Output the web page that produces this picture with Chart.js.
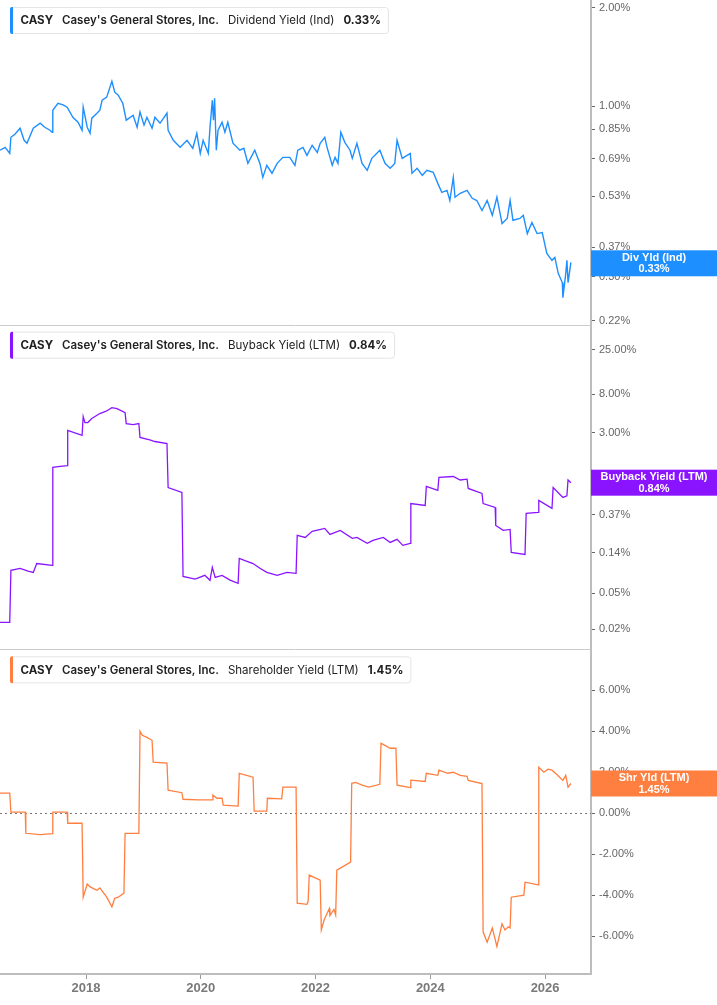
<!DOCTYPE html>
<html>
<head>
<meta charset="utf-8">
<script src="https://cdn.jsdelivr.net/npm/chart.js@4.4.1/dist/chart.umd.min.js"></script>
<style>
  html, body { margin: 0; padding: 0; background: #fff; }
</style>
</head>
<body>
<canvas id="yieldChart" width="717" height="1005"></canvas>
<script>
// Dividend yield (Ind), %
const divYears = [2016.50, 2016.59, 2016.67, 2016.69, 2016.76, 2016.85, 2016.92, 2016.97, 2017.08, 2017.20, 2017.28, 2017.37, 2017.41, 2017.42, 2017.51, 2017.60, 2017.67, 2017.77, 2017.86, 2017.93, 2017.95, 2018.02, 2018.07, 2018.10, 2018.19, 2018.24, 2018.28, 2018.36, 2018.45, 2018.50, 2018.56, 2018.64, 2018.70, 2018.82, 2018.89, 2018.94, 2019.01, 2019.06, 2019.15, 2019.20, 2019.29, 2019.41, 2019.43, 2019.52, 2019.64, 2019.76, 2019.86, 2019.93, 2019.99, 2020.04, 2020.13, 2020.16, 2020.20, 2020.22, 2020.24, 2020.27, 2020.30, 2020.37, 2020.42, 2020.47, 2020.56, 2020.68, 2020.75, 2020.82, 2020.94, 2021.03, 2021.08, 2021.15, 2021.24, 2021.33, 2021.43, 2021.55, 2021.64, 2021.69, 2021.78, 2021.85, 2021.94, 2022.03, 2022.08, 2022.16, 2022.20, 2022.29, 2022.34, 2022.39, 2022.44, 2022.51, 2022.60, 2022.64, 2022.72, 2022.81, 2022.90, 2022.98, 2023.12, 2023.21, 2023.30, 2023.38, 2023.42, 2023.51, 2023.65, 2023.68, 2023.77, 2023.86, 2023.94, 2024.05, 2024.13, 2024.20, 2024.29, 2024.34, 2024.40, 2024.43, 2024.52, 2024.64, 2024.73, 2024.81, 2024.90, 2024.99, 2025.08, 2025.16, 2025.25, 2025.34, 2025.39, 2025.44, 2025.56, 2025.62, 2025.69, 2025.77, 2025.86, 2025.95, 2026.03, 2026.12, 2026.17, 2026.23, 2026.30, 2026.31, 2026.36, 2026.38, 2026.40, 2026.45];
const divYield = [0.733, 0.748, 0.717, 0.803, 0.820, 0.856, 0.786, 0.770, 0.856, 0.887, 0.862, 0.844, 0.832, 0.972, 1.021, 1.010, 0.993, 0.925, 0.893, 0.844, 0.993, 0.862, 0.826, 0.919, 0.952, 0.972, 1.043, 1.066, 1.193, 1.104, 1.081, 1.021, 0.906, 0.938, 0.862, 0.960, 0.875, 0.925, 0.856, 0.925, 0.887, 0.952, 0.844, 0.786, 0.748, 0.786, 0.743, 0.826, 0.717, 0.786, 0.717, 0.862, 1.043, 0.906, 1.058, 0.733, 0.844, 0.893, 0.832, 0.893, 0.770, 0.733, 0.743, 0.668, 0.733, 0.668, 0.605, 0.659, 0.623, 0.668, 0.697, 0.697, 0.659, 0.733, 0.748, 0.707, 0.759, 0.722, 0.770, 0.803, 0.748, 0.659, 0.697, 0.668, 0.832, 0.775, 0.733, 0.692, 0.770, 0.668, 0.636, 0.692, 0.733, 0.668, 0.645, 0.668, 0.786, 0.692, 0.717, 0.623, 0.645, 0.614, 0.636, 0.627, 0.580, 0.544, 0.552, 0.514, 0.605, 0.526, 0.541, 0.552, 0.522, 0.514, 0.479, 0.514, 0.463, 0.526, 0.437, 0.453, 0.514, 0.447, 0.453, 0.463, 0.407, 0.440, 0.407, 0.410, 0.354, 0.337, 0.344, 0.307, 0.288, 0.259, 0.307, 0.337, 0.288, 0.332];

// Buyback yield (LTM), %
const buyYears = [2016.50, 2016.67, 2016.69, 2016.85, 2016.99, 2017.08, 2017.14, 2017.41, 2017.42, 2017.55, 2017.67, 2017.68, 2017.93, 2017.95, 2017.98, 2018.03, 2018.10, 2018.24, 2018.35, 2018.45, 2018.54, 2018.68, 2018.70, 2018.82, 2018.92, 2018.94, 2019.11, 2019.20, 2019.41, 2019.43, 2019.67, 2019.69, 2019.90, 2020.07, 2020.16, 2020.20, 2020.25, 2020.37, 2020.51, 2020.65, 2020.67, 2020.77, 2020.91, 2021.03, 2021.15, 2021.33, 2021.50, 2021.66, 2021.68, 2021.82, 2021.94, 2022.16, 2022.25, 2022.43, 2022.64, 2022.72, 2022.90, 2023.00, 2023.18, 2023.30, 2023.42, 2023.52, 2023.65, 2023.66, 2023.91, 2023.93, 2024.13, 2024.15, 2024.40, 2024.52, 2024.64, 2024.66, 2024.90, 2024.92, 2025.13, 2025.14, 2025.27, 2025.39, 2025.41, 2025.65, 2025.67, 2025.88, 2025.89, 2026.12, 2026.14, 2026.31, 2026.38, 2026.40, 2026.45];
const buyYield = [0.0239, 0.0239, 0.0898, 0.0945, 0.088, 0.0853, 0.107, 0.102, 1.24, 1.27, 1.30, 3.18, 2.80, 4.54, 3.89, 3.89, 4.31, 4.90, 5.20, 5.70, 5.56, 5.02, 3.79, 3.70, 3.79, 2.66, 2.50, 2.40, 2.28, 0.743, 0.655, 0.0771, 0.072, 0.0791, 0.0697, 0.097, 0.075, 0.0791, 0.070, 0.0645, 0.122, 0.115, 0.107, 0.095, 0.0853, 0.0791, 0.0853, 0.0832, 0.219, 0.208, 0.243, 0.262, 0.225, 0.249, 0.203, 0.208, 0.179, 0.193, 0.208, 0.183, 0.198, 0.170, 0.179, 0.494, 0.470, 0.764, 0.689, 0.960, 0.984, 0.900, 0.920, 0.725, 0.638, 0.494, 0.447, 0.282, 0.249, 0.255, 0.142, 0.135, 0.384, 0.394, 0.535, 0.436, 0.743, 0.577, 0.600, 0.900, 0.840];

// Shareholder yield (LTM), %
const shrYears = [2016.50, 2016.67, 2016.69, 2016.94, 2016.95, 2017.20, 2017.41, 2017.42, 2017.67, 2017.68, 2017.93, 2017.95, 2018.02, 2018.07, 2018.19, 2018.24, 2018.36, 2018.45, 2018.50, 2018.56, 2018.66, 2018.68, 2018.92, 2018.94, 2018.98, 2019.06, 2019.15, 2019.17, 2019.41, 2019.43, 2019.67, 2019.69, 2019.95, 2020.20, 2020.21, 2020.28, 2020.37, 2020.39, 2020.65, 2020.67, 2020.91, 2020.93, 2021.15, 2021.16, 2021.41, 2021.43, 2021.66, 2021.68, 2021.85, 2021.87, 2021.89, 2022.08, 2022.10, 2022.15, 2022.24, 2022.25, 2022.32, 2022.35, 2022.37, 2022.61, 2022.63, 2022.70, 2022.81, 2022.93, 2023.12, 2023.14, 2023.17, 2023.30, 2023.40, 2023.42, 2023.65, 2023.66, 2023.91, 2023.93, 2024.13, 2024.15, 2024.30, 2024.40, 2024.52, 2024.64, 2024.66, 2024.90, 2024.92, 2024.99, 2025.08, 2025.16, 2025.25, 2025.30, 2025.36, 2025.39, 2025.41, 2025.63, 2025.65, 2025.88, 2025.89, 2025.98, 2026.05, 2026.12, 2026.20, 2026.31, 2026.36, 2026.40, 2026.45];
const shrYield = [0.98, 0.98, 0.05, 0.05, -0.98, -1.05, -1.00, 0.05, 0.05, -0.49, -0.49, -4.10, -3.46, -3.60, -3.76, -3.65, -4.10, -4.57, -4.15, -4.10, -3.90, -0.98, -0.98, 4.00, 3.80, 3.70, 3.56, 2.49, 2.45, 1.12, 1.00, 0.68, 0.65, 0.65, 0.88, 0.73, 0.73, 0.39, 0.35, 1.95, 1.76, 0.10, 0.10, 0.73, 0.70, 1.27, 1.27, -4.39, -4.45, -4.30, -3.02, -3.27, -5.70, -5.20, -4.65, -5.00, -4.70, -4.97, -2.78, -2.39, 1.46, 1.50, 1.37, 1.27, 1.41, 3.41, 3.37, 3.17, 3.17, 1.37, 1.25, 1.61, 1.55, 1.95, 1.85, 2.10, 1.95, 2.00, 1.85, 1.80, 1.60, 1.45, -5.80, -6.30, -5.60, -6.50, -5.40, -5.70, -5.55, -5.60, -4.10, -4.00, -3.37, -3.50, 2.24, 2.00, 2.15, 2.10, 1.90, 1.60, 1.85, 1.27, 1.45];

const divTicks = [2.00, 1.00, 0.85, 0.69, 0.53, 0.37, 0.30, 0.22];
const buyTicks = [25, 8, 3, 1, 0.37, 0.14, 0.05, 0.02];
const shrTicks = [6, 4, 2, 0, -2, -4, -6];
const yearTicks = [2018, 2020, 2022, 2024, 2026];

const ticker = 'CASY';
const company = "Casey's General Stores, Inc.";
const metricNames = ['Dividend Yield (Ind)', 'Buyback Yield (LTM)', 'Shareholder Yield (LTM)'];
const badgeNames = ['Div Yld (Ind)', 'Buyback Yield (LTM)', 'Shr Yld (LTM)'];
const lastValues = [0.33, 0.84, 1.45];
const colors = ['#1e8fff', '#8a14ff', '#ff7f40'];

const pairs = (xs, ys) => xs.map((x, i) => ({ x: x, y: ys[i] }));
const pct = v => Number(v).toFixed(2) + '%';

function yAxis(extra, tickList) {
  return Object.assign({
    position: 'right',
    stack: 'yields',
    stackWeight: 1,
    border: { color: '#bdbdbd', width: 2 },
    grid: { drawOnChartArea: false, drawTicks: true, tickLength: 4, tickColor: '#666' },
    ticks: {
      autoSkip: false,
      padding: 4,
      color: '#666',
      font: { family: 'Liberation Sans, Arial, sans-serif', size: 11 },
      callback: v => pct(v)
    },
    afterBuildTicks: s => { s.ticks = tickList.map(v => ({ value: v })); },
    afterFit: s => { s.width = 126; s.paddingTop = 0; s.paddingBottom = 0; }
  }, extra);
}

const headerFont = (weight) => weight + ' 11.5px Inter, sans-serif';

const panelPlugin = {
  id: 'panels',
  beforeDatasetsDraw(chart) {
    const ctx = chart.ctx;
    const area = chart.chartArea;
    const y3 = chart.scales.y3;
    ctx.save();
    // zero line on the shareholder panel
    ctx.strokeStyle = '#777';
    ctx.lineWidth = 1;
    ctx.setLineDash([2, 3]);
    const zy = Math.round(y3.getPixelForValue(0)) + 0.5;
    ctx.beginPath();
    ctx.moveTo(area.left, zy);
    ctx.lineTo(area.right, zy);
    ctx.stroke();
    ctx.setLineDash([]);
    // panel separators
    ctx.strokeStyle = '#cccccc';
    ['y1', 'y2'].forEach(id => {
      const b = Math.round(chart.scales[id].bottom) + 0.5;
      ctx.beginPath();
      ctx.moveTo(area.left, b);
      ctx.lineTo(area.right, b);
      ctx.stroke();
    });
    ctx.restore();
  },
  afterDraw(chart) {
    const ctx = chart.ctx;
    const area = chart.chartArea;
    ['y1', 'y2', 'y3'].forEach((id, i) => {
      const s = chart.scales[id];
      // header box
      const parts = [
        [ticker, '700'],
        [company, '600'],
        [metricNames[i], '400'],
        [pct(lastValues[i]), '700']
      ];
      ctx.save();
      const widths = parts.map(p => {
        ctx.font = headerFont(p[1]);
        return ctx.measureText(p[0]).width;
      });
      const gap = 9;
      const bx = 10, by = s.top + 7, bh = 26;
      const bw = 10.5 + widths.reduce((a, b) => a + b, 0) + gap * 3 + 7;
      ctx.fillStyle = '#fff';
      ctx.strokeStyle = '#e4e4e4';
      ctx.lineWidth = 1;
      ctx.beginPath();
      ctx.roundRect(bx + 0.5, by + 0.5, bw, bh, 3);
      ctx.fill();
      ctx.stroke();
      ctx.fillStyle = colors[i];
      ctx.beginPath();
      ctx.roundRect(bx, by, 3, bh + 1, [2, 0, 0, 2]);
      ctx.fill();
      ctx.fillStyle = '#222';
      ctx.textBaseline = 'middle';
      let tx = bx + 10.5;
      parts.forEach((p, k) => {
        ctx.font = headerFont(p[1]);
        ctx.fillText(p[0], tx, by + bh / 2 + 1);
        tx += widths[k] + gap;
      });
      // value badge on the axis
      const cy = s.getPixelForValue(lastValues[i]);
      ctx.fillStyle = colors[i];
      ctx.fillRect(area.right, cy - 13, chart.width - area.right, 26);
      ctx.fillStyle = '#fff';
      ctx.textAlign = 'center';
      ctx.font = 'bold 11px Liberation Sans, Arial, sans-serif';
      const cx = (area.right + chart.width) / 2;
      ctx.fillText(badgeNames[i], cx, cy - 5.5);
      ctx.fillText(pct(lastValues[i]), cx, cy + 6);
      ctx.restore();
    });
  }
};

const lineStyle = (color, width) => ({
  borderColor: color,
  borderWidth: width,
  pointRadius: 0,
  tension: 0,
  fill: false
});

const ctx = document.getElementById('yieldChart').getContext('2d');
const yieldChart = new Chart(ctx, {
  type: 'line',
  data: {
    datasets: [
      Object.assign({ label: 'Dividend Yield (Ind)', data: pairs(divYears, divYield), yAxisID: 'y1' }, lineStyle(colors[0], 1.4)),
      Object.assign({ label: 'Buyback Yield (LTM)', data: pairs(buyYears, buyYield), yAxisID: 'y2' }, lineStyle(colors[1], 1.3)),
      Object.assign({ label: 'Shareholder Yield (LTM)', data: pairs(shrYears, shrYield), yAxisID: 'y3' }, lineStyle(colors[2], 1.3))
    ]
  },
  options: {
    responsive: false,
    animation: false,
    layout: { padding: 0, autoPadding: false },
    plugins: { legend: { display: false }, tooltip: { enabled: false } },
    scales: {
      x: {
        type: 'linear',
        min: 2016.5,
        max: 2026.8,
        border: { color: '#bdbdbd', width: 2 },
        grid: { drawOnChartArea: false, tickLength: 5, tickColor: '#999' },
        ticks: {
          color: '#7a7a7a',
          padding: 2,
          font: { family: 'Liberation Sans, Arial, sans-serif', size: 13, weight: 'bold' },
          callback: v => String(v)
        },
        afterBuildTicks: s => { s.ticks = yearTicks.map(v => ({ value: v })); },
        afterFit: s => { s.height = 31; s.paddingLeft = 0; s.paddingRight = 0; }
      },
      y1: yAxis({ type: 'logarithmic', min: 0.214, max: 2.116 }, divTicks),
      y2: yAxis({ type: 'logarithmic', min: 0.012, max: 47.2 }, buyTicks),
      y3: yAxis({ type: 'linear', min: -7.85, max: 8.0 }, shrTicks)
    }
  },
  plugins: [panelPlugin]
});
</script>
</body>
</html>
